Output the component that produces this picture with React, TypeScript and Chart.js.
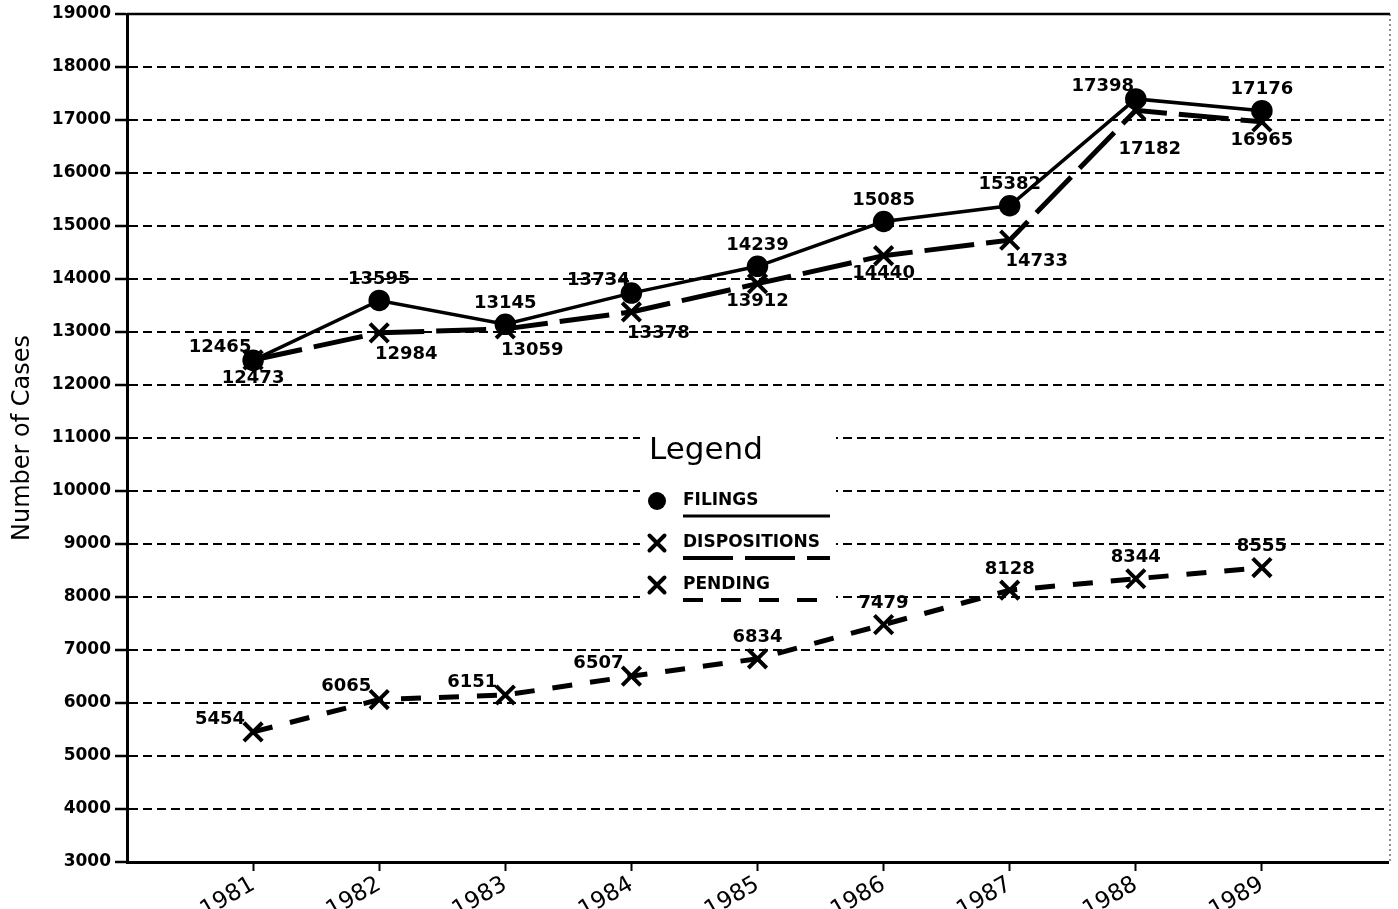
import React, { useEffect, useRef } from 'react';
import { Chart, registerables } from 'chart.js';

Chart.register(...registerables);

const years = [1981, 1982, 1983, 1984, 1985, 1986, 1987, 1988, 1989];
const filings = [12465, 13595, 13145, 13734, 14239, 15085, 15382, 17398, 17176];
const dispositions = [12473, 12984, 13059, 13378, 13912, 14440, 14733, 17182, 16965];
const pending = [5454, 6065, 6151, 6507, 6834, 7479, 8128, 8344, 8555];
const yTickValues = [3000, 4000, 5000, 6000, 7000, 8000, 9000, 10000, 11000, 12000, 13000, 14000, 15000, 16000, 17000, 18000, 19000];
const seriesNames = ['FILINGS', 'DISPOSITIONS', 'PENDING'];

// label placement keywords per point (style, not data)
const labelPlacement = [
  ['topleft', 'top', 'top', 'topleft', 'top', 'top', 'top', 'topleft', 'top'],
  ['bottom', 'bottomright', 'bottomright', 'bottomright', 'bottom', 'bottom', 'bottomright', 'low', 'bottom'],
  ['topleft', 'topleft', 'topleft', 'topleft', 'top', 'top', 'top', 'top', 'top'],
];
const placementOffsets: Record<string, [number, number]> = {
  top: [0, -21],
  topleft: [-33, -13],
  bottom: [0, 18],
  bottomright: [27, 21],
  low: [14, 39],
};

const FONT = '"DejaVu Sans", sans-serif';

const labelPlugin = {
  id: 'pointLabels',
  afterDatasetsDraw(chart: any) {
    const ctx = chart.ctx;
    ctx.save();
    ctx.font = `bold 18px ${FONT}`;
    ctx.fillStyle = '#000';
    ctx.textAlign = 'center';
    ctx.textBaseline = 'middle';
    chart.data.datasets.forEach((ds: any, di: number) => {
      const meta = chart.getDatasetMeta(di);
      meta.data.forEach((pt: any, i: number) => {
        const off = placementOffsets[labelPlacement[di][i]];
        ctx.fillText(String(ds.data[i].y), pt.x + off[0], pt.y + off[1]);
      });
    });
    ctx.restore();
  },
};

function drawX(ctx: CanvasRenderingContext2D, x: number, y: number, r: number, w: number) {
  ctx.save();
  ctx.lineWidth = w;
  ctx.lineCap = 'round';
  ctx.strokeStyle = '#000';
  ctx.setLineDash([]);
  ctx.beginPath();
  ctx.moveTo(x - r, y - r);
  ctx.lineTo(x + r, y + r);
  ctx.moveTo(x + r, y - r);
  ctx.lineTo(x - r, y + r);
  ctx.stroke();
  ctx.restore();
}

const framePlugin = {
  id: 'frameAndLegend',
  afterDraw(chart: any) {
    const ctx = chart.ctx;
    const a = chart.chartArea;
    ctx.save();
    // top solid line
    ctx.strokeStyle = '#000';
    ctx.lineWidth = 2.5;
    ctx.setLineDash([]);
    ctx.beginPath();
    ctx.moveTo(a.left, a.top);
    ctx.lineTo(a.right + 2, a.top);
    ctx.stroke();
    // right dotted edge
    ctx.lineWidth = 1.2;
    ctx.strokeStyle = '#444';
    ctx.setLineDash([2, 3]);
    ctx.beginPath();
    ctx.moveTo(a.right + 2, a.top);
    ctx.lineTo(a.right + 2, a.bottom);
    ctx.stroke();
    ctx.setLineDash([]);

    // legend box
    const lx = 640;
    const ly = 424;
    ctx.fillStyle = '#fff';
    ctx.fillRect(lx, ly, 196, 182);
    ctx.fillStyle = '#000';
    ctx.strokeStyle = '#000';
    ctx.textAlign = 'left';
    ctx.textBaseline = 'middle';
    ctx.font = `31px ${FONT}`;
    ctx.fillText('Legend', 649, 451);
    ctx.font = `bold 17px ${FONT}`;
    const rows = [501, 543, 585];
    chart.data.datasets.forEach((ds: any, di: number) => {
      const y = rows[di];
      if (di === 0) {
        ctx.beginPath();
        ctx.arc(657, y, 9, 0, Math.PI * 2);
        ctx.fill();
      } else {
        drawX(ctx, 657, y, 7.5, 4);
      }
      ctx.fillText(ds.label, 683, y);
      ctx.save();
      ctx.strokeStyle = '#000';
      ctx.lineWidth = di === 0 ? 3 : 4;
      ctx.setLineDash(ds.borderDash || []);
      ctx.beginPath();
      ctx.moveTo(683, y + 15);
      ctx.lineTo(830, y + 15);
      ctx.stroke();
      ctx.restore();
    });
    ctx.restore();
  },
};

export default function App() {
  const ref = useRef<HTMLCanvasElement | null>(null);
  useEffect(() => {
    if (!ref.current) return;
    const mk = (vals: number[]) => years.map((y, i) => ({ x: y, y: vals[i] }));
    const chart = new Chart(ref.current, {
      type: 'line',
      data: {
        datasets: [
          {
            label: seriesNames[0],
            data: mk(filings),
            borderColor: '#000',
            backgroundColor: '#000',
            borderWidth: 3.5,
            pointStyle: 'circle',
            pointRadius: 9,
            pointBackgroundColor: '#000',
            pointBorderColor: '#000',
            fill: false,
            tension: 0,
          },
          {
            label: seriesNames[1],
            data: mk(dispositions),
            borderColor: '#000',
            backgroundColor: '#000',
            borderWidth: 5,
            borderDash: [50, 12],
            pointStyle: 'crossRot',
            pointRadius: 13,
            pointBorderWidth: 4,
            pointBorderColor: '#000',
            fill: false,
            tension: 0,
          },
          {
            label: seriesNames[2],
            data: mk(pending),
            borderColor: '#000',
            backgroundColor: '#000',
            borderWidth: 5,
            borderDash: [20, 18],
            pointStyle: 'crossRot',
            pointRadius: 13,
            pointBorderWidth: 4,
            pointBorderColor: '#000',
            fill: false,
            tension: 0,
          },
        ],
      },
      options: {
        animation: false,
        responsive: true,
        maintainAspectRatio: false,
        layout: { autoPadding: false, padding: { top: 14, right: 10, left: 0, bottom: 0 } },
        plugins: {
          legend: { display: false },
          tooltip: { enabled: false },
        },
        scales: {
          x: {
            type: 'linear',
            min: 1980,
            max: 1990,
            afterBuildTicks: (scale: any) => {
              scale.ticks = years.map((v) => ({ value: v }));
            },
            afterFit: (scale: any) => {
              scale.height = 47;
              scale.paddingLeft = 0;
              scale.paddingRight = 0;
            },
            ticks: {
              callback: (v: any) => String(v),
              minRotation: 30,
              maxRotation: 30,
              color: '#000',
              font: { family: FONT, size: 23 },
              padding: 0,
              autoSkip: false,
            },
            grid: {
              drawOnChartArea: false,
              drawTicks: true,
              tickLength: 9,
              tickColor: '#000',
              tickWidth: 2,
            },
            border: { display: true, color: '#000', width: 3 },
          },
          y: {
            type: 'linear',
            min: 3000,
            max: 19000,
            afterBuildTicks: (scale: any) => {
              scale.ticks = yTickValues.map((v) => ({ value: v }));
            },
            afterFit: (scale: any) => {
              scale.width = 127;
              scale.paddingTop = 0;
              scale.paddingBottom = 0;
            },
            ticks: {
              color: '#000',
              font: { family: FONT, size: 17, weight: 'bold' },
              padding: 4,
              callback: (v: any) => String(v),
            },
            grid: {
              color: '#000',
              lineWidth: 2,
              drawTicks: true,
              tickLength: 12,
              tickColor: '#000',
              tickWidth: 2.5,
              tickBorderDash: [],
            },
            border: { display: true, color: '#000', width: 3, dash: [9, 5] },
            title: {
              display: true,
              text: 'Number of Cases',
              color: '#000',
              font: { family: FONT, size: 24 },
              padding: { top: 8, bottom: 0 },
            },
          },
        },
      },
      plugins: [labelPlugin, framePlugin],
    } as any);
    return () => chart.destroy();
  }, []);
  return (
    <div style={{ position: 'absolute', left: 0, top: 0, width: 1398, height: 909 }}>
      <canvas ref={ref} />
    </div>
  );
}
